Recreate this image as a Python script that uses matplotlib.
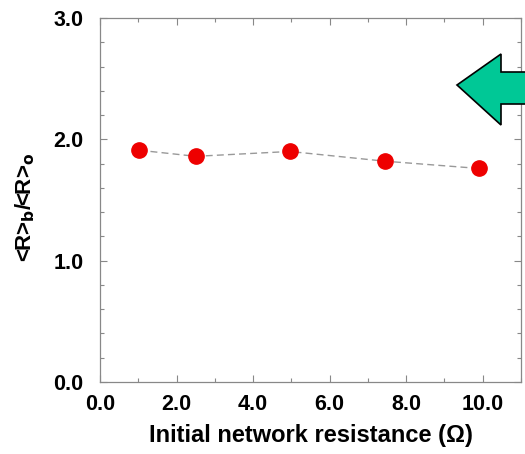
import matplotlib
matplotlib.use("Agg")
import matplotlib.pyplot as plt
from matplotlib.patches import Polygon
from matplotlib.ticker import MultipleLocator

# Data
resistance = [1.03, 2.5, 4.96, 7.44, 9.9]
ratio = [1.91, 1.86, 1.90, 1.82, 1.76]
x_ticks = [0, 2, 4, 6, 8, 10]
y_ticks = [0, 1, 2, 3]

W, H = 525, 454
fig = plt.figure(figsize=(W / 100, H / 100), dpi=100)
ax = fig.add_axes([100 / W, 1 - 382 / H, 421 / W, 364 / H])

ax.plot(resistance, ratio, linestyle=(0, (5, 3)), color="#999999", lw=1.0, zorder=2)
ax.plot(resistance, ratio, linestyle="none", marker="o", ms=11,
        color="#ee0000", mec="#ee0000", zorder=3)

ax.set_xlim(0, 11.0)
ax.set_ylim(0, 3.0)
ax.set_xticks(x_ticks)
ax.set_xticklabels([f"{v:.1f}" for v in x_ticks])
ax.set_yticks(y_ticks)
ax.set_yticklabels([f"{v:.1f}" for v in y_ticks])
ax.xaxis.set_minor_locator(MultipleLocator(1.0))
ax.yaxis.set_minor_locator(MultipleLocator(0.2))
ax.tick_params(which="both", direction="in", top=True, right=True,
               color="#888888", width=0.8)
ax.tick_params(which="major", length=5, labelsize=15.5)
ax.tick_params(axis="x", which="major", pad=9)
ax.tick_params(axis="y", which="major", pad=12)
ax.tick_params(which="minor", length=3)
for lab in ax.get_xticklabels() + ax.get_yticklabels():
    lab.set_fontweight("bold")
    lab.set_family("Liberation Sans")
for s in ax.spines.values():
    s.set_color("#888888")
    s.set_linewidth(0.9)

ax.set_xlabel("Initial network resistance (\u03a9)", fontsize=17,
              fontweight="bold", family="Liberation Sans", labelpad=6)
ax.set_ylabel(r"<R>$_\mathbf{b}$/<R>$_\mathbf{o}$", fontsize=16,
              fontweight="bold", family="Liberation Sans")
ax.yaxis.set_label_coords(-0.15, 0.48)

# Green arrow decoration (figure coordinates)
pts_px = [(457, 85), (501, 54), (501, 72), (540, 72), (540, 104), (501, 104), (501, 125)]
pts = [(x / W, 1 - y / H) for x, y in pts_px]
fig.patches.append(Polygon(pts, closed=True, facecolor="#00c896",
                           edgecolor="black", lw=1.2, transform=fig.transFigure,
                           figure=fig))

fig.savefig("out.png", dpi=100)
